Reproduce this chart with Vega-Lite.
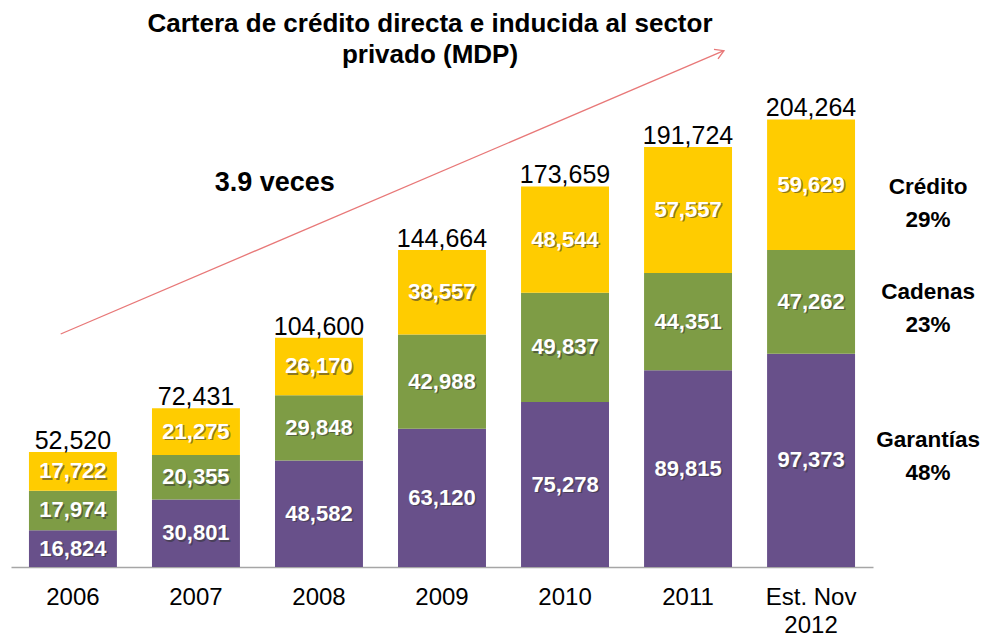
{
  "$schema": "https://vega.github.io/schema/vega-lite/v6.json",
  "width": 862,
  "height": 504,
  "autosize": {"type": "none"},
  "padding": {"left": 11, "top": 63, "right": 114, "bottom": 70},
  "background": "white",
  "config": {"view": {"stroke": null}, "font": "Liberation Sans"},
  "title": {
    "text": ["Cartera de crédito directa e inducida al sector", "privado (MDP)"],
    "font": "Liberation Sans",
    "fontSize": 26,
    "fontWeight": "bold",
    "lineHeight": 31,
    "anchor": "middle",
    "offset": 0,
    "dx": -12,
    "dy": 21,
    "color": "#000000"
  },
  "datasets": {
    "segs": [
      {"cat": "2006", "serie": "Garantías", "ord": 1, "value": 16824},
      {"cat": "2006", "serie": "Cadenas", "ord": 2, "value": 17974},
      {"cat": "2006", "serie": "Crédito", "ord": 3, "value": 17722},
      {"cat": "2007", "serie": "Garantías", "ord": 1, "value": 30801},
      {"cat": "2007", "serie": "Cadenas", "ord": 2, "value": 20355},
      {"cat": "2007", "serie": "Crédito", "ord": 3, "value": 21275},
      {"cat": "2008", "serie": "Garantías", "ord": 1, "value": 48582},
      {"cat": "2008", "serie": "Cadenas", "ord": 2, "value": 29848},
      {"cat": "2008", "serie": "Crédito", "ord": 3, "value": 26170},
      {"cat": "2009", "serie": "Garantías", "ord": 1, "value": 63120},
      {"cat": "2009", "serie": "Cadenas", "ord": 2, "value": 42988},
      {"cat": "2009", "serie": "Crédito", "ord": 3, "value": 38557},
      {"cat": "2010", "serie": "Garantías", "ord": 1, "value": 75278},
      {"cat": "2010", "serie": "Cadenas", "ord": 2, "value": 49837},
      {"cat": "2010", "serie": "Crédito", "ord": 3, "value": 48544},
      {"cat": "2011", "serie": "Garantías", "ord": 1, "value": 89815},
      {"cat": "2011", "serie": "Cadenas", "ord": 2, "value": 44351},
      {"cat": "2011", "serie": "Crédito", "ord": 3, "value": 57557},
      {"cat": "Est. Nov 2012", "serie": "Garantías", "ord": 1, "value": 97373},
      {"cat": "Est. Nov 2012", "serie": "Cadenas", "ord": 2, "value": 47262},
      {"cat": "Est. Nov 2012", "serie": "Crédito", "ord": 3, "value": 59629}
    ],
    "totals": [
      {"cat": "2006", "total": 52520},
      {"cat": "2007", "total": 72431},
      {"cat": "2008", "total": 104600},
      {"cat": "2009", "total": 144664},
      {"cat": "2010", "total": 173659},
      {"cat": "2011", "total": 191724},
      {"cat": "Est. Nov 2012", "total": 204264}
    ],
    "arrow": [
      {"xi": -0.0995, "yv": 106330, "xi2": 5.292, "yv2": 235610}
    ],
    "head": [
      {"xi": 5.292, "yv": 235610}
    ],
    "note": [
      {"xi": 1.64, "yv": 175300, "label": "3.9 veces"}
    ],
    "side": [
      {"xi": 6.951, "yv": 173413, "label": ["Crédito", "29%"]},
      {"xi": 6.951, "yv": 125268, "label": ["Cadenas", "23%"]},
      {"xi": 6.951, "yv": 57729, "label": ["Garantías", "48%"]}
    ]
  },
  "layer": [
    {
      "encoding": {
        "x": {
          "field": "cat",
          "type": "nominal",
          "sort": null,
          "scale": {"type": "band", "paddingInner": 0.285, "paddingOuter": 0.146},
          "axis": {
            "title": null,
            "ticks": false,
            "domainColor": "#A6A6A6",
            "domainWidth": 1.5,
            "labelAngle": 0,
            "labelFont": "Liberation Sans",
            "labelFontSize": 24,
            "labelColor": "#000000",
            "labelPadding": 18,
            "labelLineHeight": 28,
            "labelExpr": "datum.label == 'Est. Nov 2012' ? ['Est. Nov', '2012'] : datum.label"
          }
        }
      },
      "layer": [
        {
          "data": {"name": "segs"},
          "transform": [
            {"stack": "value", "groupby": ["cat"], "sort": [{"field": "ord"}], "as": ["v0", "v1"]},
            {"calculate": "(datum.v0 + datum.v1) / 2", "as": "mid"}
          ],
          "layer": [
            {
              "mark": {"type": "bar"},
              "encoding": {
                "y": {"field": "v1", "type": "quantitative", "scale": {"domain": [0, 230000], "nice": false}, "axis": null},
                "y2": {"field": "v0"},
                "color": {
                  "field": "serie",
                  "type": "nominal",
                  "scale": {"domain": ["Garantías", "Cadenas", "Crédito"], "range": ["#68508A", "#7E9C45", "#FFCC00"]},
                  "legend": null
                }
              }
            },
            {
              "mark": {"type": "text", "font": "Liberation Sans", "fontSize": 22, "fontWeight": "bold", "color": "#333333", "opacity": 0.55, "dx": 1.5, "dy": 1.5, "baseline": "middle"},
              "encoding": {
                "y": {"field": "mid", "type": "quantitative", "scale": {"domain": [0, 230000], "nice": false}},
                "text": {"field": "value", "type": "quantitative", "format": ",d"}
              }
            },
            {
              "mark": {"type": "text", "font": "Liberation Sans", "fontSize": 22, "fontWeight": "bold", "color": "#FFFFFF", "baseline": "middle"},
              "encoding": {
                "y": {"field": "mid", "type": "quantitative", "scale": {"domain": [0, 230000], "nice": false}},
                "text": {"field": "value", "type": "quantitative", "format": ",d"}
              }
            }
          ]
        },
        {
          "data": {"name": "totals"},
          "mark": {"type": "text", "font": "Liberation Sans", "fontSize": 25, "color": "#000000", "baseline": "alphabetic", "dy": -3},
          "encoding": {
            "y": {"field": "total", "type": "quantitative", "scale": {"domain": [0, 230000], "nice": false}},
            "text": {"field": "total", "type": "quantitative", "format": ",d"}
          }
        }
      ]
    },
    {
      "data": {"name": "arrow"},
      "mark": {"type": "rule", "color": "#E87878", "strokeWidth": 1.3},
      "encoding": {
        "x": {"field": "xi", "type": "quantitative", "scale": {"domain": [-0.5035, 6.5036], "nice": false, "zero": false}, "axis": null},
        "x2": {"field": "xi2"},
        "y": {"field": "yv", "type": "quantitative", "scale": {"domain": [0, 230000], "nice": false}},
        "y2": {"field": "yv2"}
      }
    },
    {
      "data": {"name": "head"},
      "mark": {"type": "point", "shape": "M -1 -0.6 L 0 0 L -1 0.6", "filled": false, "color": "#E87878", "strokeWidth": 1.3, "size": 300, "angle": 337, "opacity": 1},
      "encoding": {
        "x": {"field": "xi", "type": "quantitative", "scale": {"domain": [-0.5035, 6.5036], "nice": false, "zero": false}, "axis": null},
        "y": {"field": "yv", "type": "quantitative", "scale": {"domain": [0, 230000], "nice": false}}
      }
    },
    {
      "data": {"name": "note"},
      "mark": {"type": "text", "font": "Liberation Sans", "fontSize": 27, "fontWeight": "bold", "color": "#000000", "baseline": "middle"},
      "encoding": {
        "x": {"field": "xi", "type": "quantitative", "scale": {"domain": [-0.5035, 6.5036], "nice": false, "zero": false}, "axis": null},
        "y": {"field": "yv", "type": "quantitative", "scale": {"domain": [0, 230000], "nice": false}},
        "text": {"field": "label", "type": "nominal"}
      }
    },
    {
      "data": {"name": "side"},
      "mark": {"type": "text", "font": "Liberation Sans", "fontSize": 22.5, "fontWeight": "bold", "color": "#000000", "baseline": "middle", "lineHeight": 33},
      "encoding": {
        "x": {"field": "xi", "type": "quantitative", "scale": {"domain": [-0.5035, 6.5036], "nice": false, "zero": false}, "axis": null},
        "y": {"field": "yv", "type": "quantitative", "scale": {"domain": [0, 230000], "nice": false}},
        "text": {"field": "label", "type": "nominal"}
      }
    }
  ],
  "resolve": {"scale": {"x": "independent"}}
}
